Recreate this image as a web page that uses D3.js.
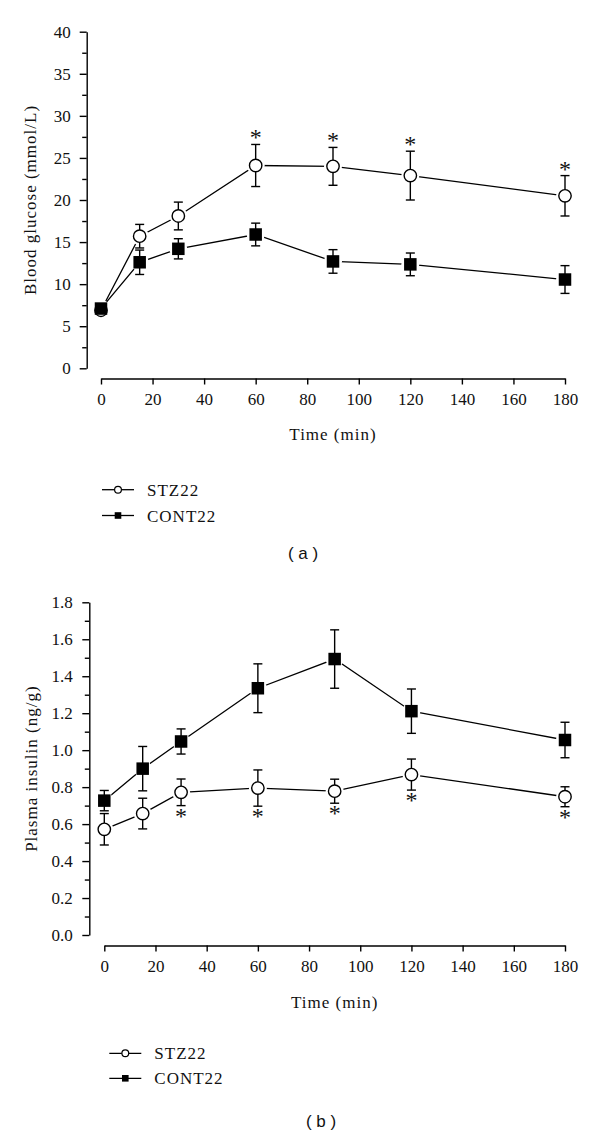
<!DOCTYPE html>
<html>
<head>
<meta charset="utf-8">
<script src="https://cdn.jsdelivr.net/npm/d3@7"></script>
<style>
  html, body { margin: 0; padding: 0; background: #fff; }
  svg { display: block; }
</style>
</head>
<body>
<svg id="chart" width="600" height="1139"></svg>
<script>
// ---------- data ----------
const times = [0, 15, 30, 60, 90, 120, 180];
const seriesNames = ["STZ22", "CONT22"];

// Panel (a): blood glucose (mmol/L), mean and SEM
const glucoseSTZ = [6.9, 15.7, 18.1, 24.1, 24.0, 22.9, 20.5];
const glucoseSTZErr = [0.4, 1.4, 1.65, 2.5, 2.25, 2.9, 2.4];
const glucoseCONT = [7.1, 12.6, 14.2, 15.9, 12.7, 12.35, 10.55];
const glucoseCONTErr = [0.4, 1.45, 1.2, 1.35, 1.4, 1.35, 1.65];
const glucoseSig = [false, false, false, true, true, true, true];

// Panel (b): plasma insulin (ng/g), mean and SEM
const insulinSTZ = [0.572, 0.657, 0.772, 0.795, 0.778, 0.868, 0.748];
const insulinSTZErr = [0.085, 0.083, 0.072, 0.098, 0.065, 0.084, 0.054];
const insulinCONT = [0.727, 0.90, 1.047, 1.335, 1.493, 1.211, 1.055];
const insulinCONTErr = [0.055, 0.12, 0.068, 0.132, 0.158, 0.12, 0.096];
const insulinSig = [false, false, true, true, true, true, true];

const xTicks = [0, 20, 40, 60, 80, 100, 120, 140, 160, 180];
const glucoseTicks = [0, 5, 10, 15, 20, 25, 30, 35, 40];
const glucoseMinor = [2.5, 7.5, 12.5, 17.5, 22.5, 27.5, 32.5, 37.5];
const insulinTicks = [0, 0.2, 0.4, 0.6, 0.8, 1.0, 1.2, 1.4, 1.6, 1.8];
const insulinMinor = [0.1, 0.3, 0.5, 0.7, 0.9, 1.1, 1.3, 1.5, 1.7];

const xTitle = "Time (min)";
const glucoseTitle = "Blood glucose (mmol/L)";
const insulinTitle = "Plasma insulin (ng/g)";
const panelLabels = ["( a )", "( b )"];

// ---------- drawing ----------
const svg = d3.select("#chart");
const FONT = '"Liberation Serif", "Times New Roman", serif';

function panel(cfg) {
  const g = svg.append("g");
  const x = d3.scaleLinear().domain([0, 180]).range([cfg.x0, cfg.x1]);
  const y = d3.scaleLinear().domain(cfg.yDomain).range([cfg.yBottom, cfg.yTop]);

  // y axis (major)
  const yAx = g.append("g").attr("transform", `translate(${cfg.yAxisX},0)`)
    .call(d3.axisLeft(y).tickValues(cfg.yTicks).tickSize(7).tickPadding(cfg.yPad)
      .tickFormat(cfg.yFormat).tickSizeOuter(0));
  // y axis minor ticks
  const yMin = g.append("g").attr("transform", `translate(${cfg.yAxisX},0)`)
    .call(d3.axisLeft(y).tickValues(cfg.yMinor).tickSize(4.5).tickFormat("").tickSizeOuter(0));
  yMin.select(".domain").remove();

  // x axis
  const xAx = g.append("g").attr("transform", `translate(0,${cfg.xAxisY})`)
    .call(d3.axisBottom(x).tickValues(xTicks).tickSize(6).tickPadding(cfg.xPad).tickSizeOuter(0));

  [yAx, yMin, xAx].forEach(a => {
    a.selectAll("path, line").attr("stroke", "#000").attr("stroke-width", 1.4);
    a.selectAll("text").attr("font-family", FONT).attr("font-size", 17).attr("fill", "#111");
  });

  // axis titles
  g.append("text")
    .attr("x", (cfg.x0 + cfg.x1) / 2).attr("y", cfg.xTitleY)
    .attr("text-anchor", "middle").attr("font-family", FONT).attr("font-size", 17)
    .attr("letter-spacing", 1).attr("fill", "#111").text(xTitle);
  g.append("text")
    .attr("transform", `translate(${cfg.yTitleX},${(cfg.yTop + cfg.yBottom) / 2}) rotate(-90)`)
    .attr("text-anchor", "middle").attr("font-family", FONT).attr("font-size", 17)
    .attr("letter-spacing", 1).attr("fill", "#111").text(cfg.yTitle);

  const series = [
    { name: seriesNames[0], v: cfg.stz, e: cfg.stzErr, type: "circle" },
    { name: seriesNames[1], v: cfg.cont, e: cfg.contErr, type: "square" }
  ];
  const line = d3.line().x((d, i) => x(times[i])).y(d => y(d));

  // connecting lines
  series.forEach(s => {
    g.append("path").datum(s.v).attr("d", line)
      .attr("fill", "none").attr("stroke", "#000").attr("stroke-width", 1.3);
  });
  // white halos to create gaps between lines and markers
  series.forEach(s => {
    g.selectAll(null).data(s.v).enter().append("circle")
      .attr("cx", (d, i) => x(times[i])).attr("cy", d => y(d))
      .attr("r", 9).attr("fill", "#fff");
  });
  // error bars
  const cap = 4.5;
  series.forEach(s => {
    const eb = g.selectAll(null).data(s.v).enter().append("g");
    eb.append("line")
      .attr("x1", (d, i) => x(times[i])).attr("x2", (d, i) => x(times[i]))
      .attr("y1", (d, i) => y(d + s.e[i])).attr("y2", (d, i) => y(d - s.e[i]));
    eb.append("line")
      .attr("x1", (d, i) => x(times[i]) - cap).attr("x2", (d, i) => x(times[i]) + cap)
      .attr("y1", (d, i) => y(d + s.e[i])).attr("y2", (d, i) => y(d + s.e[i]));
    eb.append("line")
      .attr("x1", (d, i) => x(times[i]) - cap).attr("x2", (d, i) => x(times[i]) + cap)
      .attr("y1", (d, i) => y(d - s.e[i])).attr("y2", (d, i) => y(d - s.e[i]));
    eb.selectAll("line").attr("stroke", "#000").attr("stroke-width", 1.4);
  });
  // markers
  series.forEach(s => {
    if (s.type === "circle") {
      g.selectAll(null).data(s.v).enter().append("circle")
        .attr("cx", (d, i) => x(times[i])).attr("cy", d => y(d))
        .attr("r", 6.2).attr("fill", "#fff").attr("stroke", "#000").attr("stroke-width", 1.4);
    } else {
      const sz = 12.5;
      g.selectAll(null).data(s.v).enter().append("rect")
        .attr("x", (d, i) => x(times[i]) - sz / 2).attr("y", d => y(d) - sz / 2)
        .attr("width", sz).attr("height", sz).attr("fill", "#000");
    }
  });
  // significance asterisks
  const sigIdx = times.map((t, i) => i).filter(i => cfg.sig[i]);
  g.selectAll(null).data(sigIdx).enter()
    .append("text")
    .attr("x", i => x(times[i]))
    .attr("y", i => cfg.sigAbove
      ? y(cfg.stz[i] + cfg.stzErr[i]) + 1
      : y(cfg.stz[i] - cfg.stzErr[i]) + 18)
    .attr("text-anchor", "middle").attr("font-family", FONT).attr("font-size", 24)
    .attr("fill", "#111").text("*");

  // legend
  const lg = g.append("g");
  series.forEach((s, k) => {
    const ly = cfg.legendY + k * cfg.legendGap;
    lg.append("line").attr("x1", cfg.legendX).attr("x2", cfg.legendX + 32)
      .attr("y1", ly).attr("y2", ly).attr("stroke", "#000").attr("stroke-width", 1.3);
    if (s.type === "circle") {
      lg.append("circle").attr("cx", cfg.legendX + 16).attr("cy", ly).attr("r", 3.4)
        .attr("fill", "#fff").attr("stroke", "#000").attr("stroke-width", 1.2);
    } else {
      lg.append("rect").attr("x", cfg.legendX + 16 - 3.3).attr("y", ly - 3.3)
        .attr("width", 6.6).attr("height", 6.6).attr("fill", "#000");
    }
    lg.append("text").attr("x", cfg.legendX + 45).attr("y", ly + 6)
      .attr("font-family", FONT).attr("font-size", 17).attr("letter-spacing", 1)
      .attr("fill", "#111").text(s.name);
  });

  // panel label
  g.append("text").attr("x", cfg.labelX).attr("y", cfg.labelY)
    .attr("text-anchor", "middle").attr("font-family", '"Liberation Sans", Arial, sans-serif')
    .attr("font-size", 17).attr("fill", "#111")
    .style("white-space", "pre").text(cfg.label);
}

panel({
  x0: 101, x1: 565, yBottom: 368.3, yTop: 31.7, yDomain: [0, 40],
  yAxisX: 86.7, xAxisY: 378.5, yTicks: glucoseTicks, yMinor: glucoseMinor,
  yFormat: d3.format("d"), yPad: 9, xPad: 8, xTitleY: 440, yTitleX: 36,
  yTitle: glucoseTitle, stz: glucoseSTZ, stzErr: glucoseSTZErr,
  cont: glucoseCONT, contErr: glucoseCONTErr, sig: glucoseSig, sigAbove: true,
  legendX: 102, legendY: 489.7, legendGap: 25.8, label: panelLabels[0], labelX: 303, labelY: 559
});

panel({
  x0: 104.3, x1: 565, yBottom: 935, yTop: 602.3, yDomain: [0, 1.8],
  yAxisX: 89.3, xAxisY: 945.5, yTicks: insulinTicks, yMinor: insulinMinor,
  yFormat: d3.format(".1f"), yPad: 9.6, xPad: 8, xTitleY: 1008, yTitleX: 37,
  yTitle: insulinTitle, stz: insulinSTZ, stzErr: insulinSTZErr,
  cont: insulinCONT, contErr: insulinCONTErr, sig: insulinSig, sigAbove: false,
  legendX: 109.3, legendY: 1053.3, legendGap: 25, label: panelLabels[1], labelX: 321, labelY: 1127
});
</script>
</body>
</html>
